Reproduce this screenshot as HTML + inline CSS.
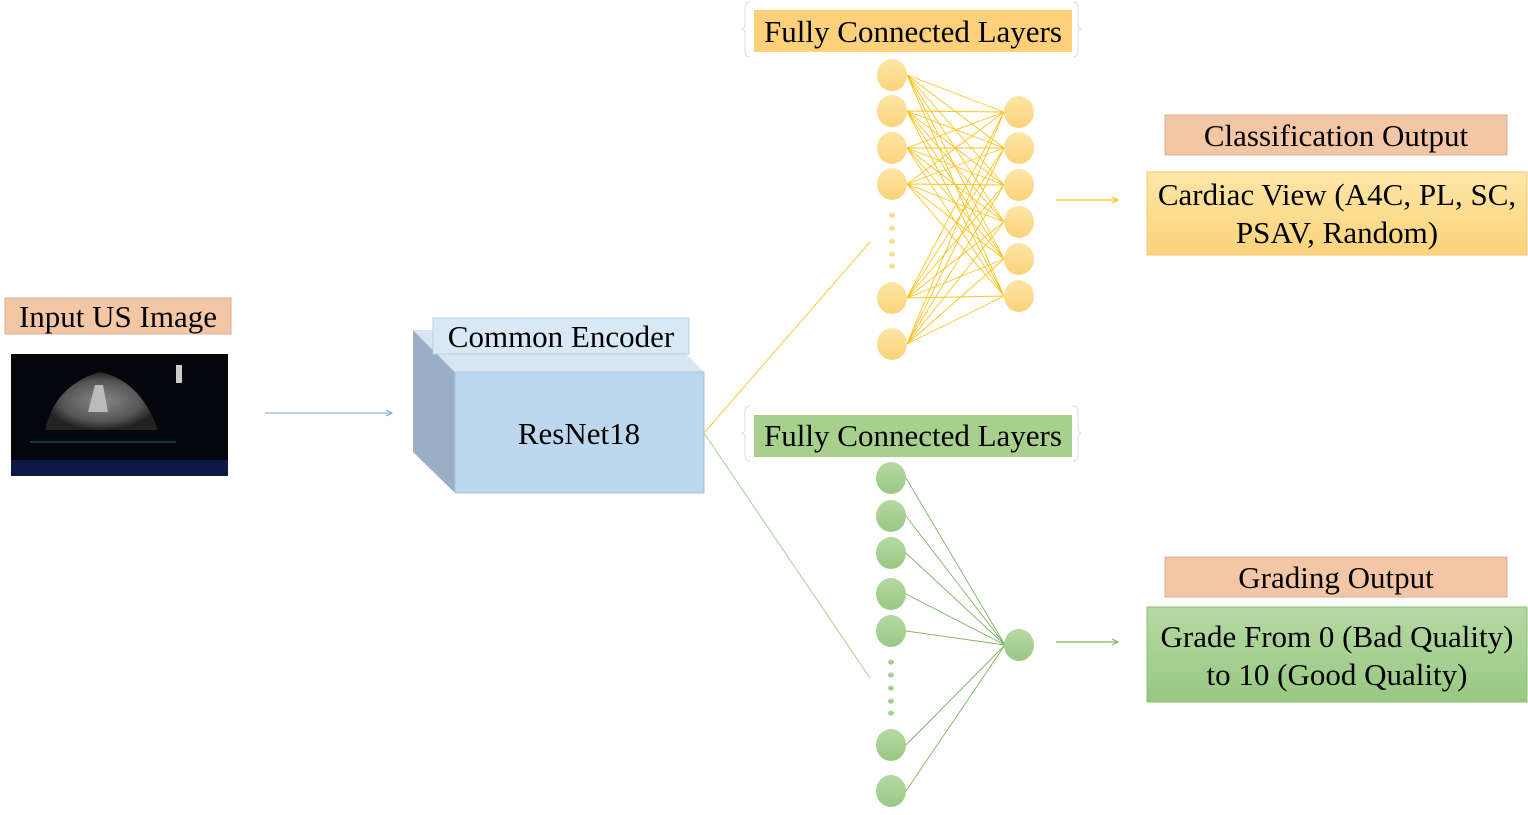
<!DOCTYPE html>
<html><head><style>
body{margin:0;width:1528px;height:810px;background:#fff;overflow:hidden;font-family:"Liberation Serif",serif}
</style></head><body>
<svg width="1528" height="810" xmlns="http://www.w3.org/2000/svg" font-family="Liberation Serif, serif">
<defs>
<linearGradient id="yg" x1="0" y1="0" x2="0" y2="1"><stop offset="0" stop-color="#fde6a6"/><stop offset="1" stop-color="#fbd37a"/></linearGradient>
<linearGradient id="gg" x1="0" y1="0" x2="0" y2="1"><stop offset="0" stop-color="#b6d9a4"/><stop offset="1" stop-color="#98c882"/></linearGradient>
<radialGradient id="us" cx="0.5" cy="0.5" r="0.5"><stop offset="0" stop-color="#888"/><stop offset="0.7" stop-color="#555"/><stop offset="1" stop-color="#222"/></radialGradient>
</defs>
<!-- Input -->
<rect x="5" y="298" width="226" height="36" fill="#f3c7a6" stroke="#d9b294"/>
<text x="118" y="327" font-size="31" text-anchor="middle">Input US Image</text>
<rect x="11" y="354" width="217" height="122" fill="#05060c"/>
<rect x="11" y="460" width="217" height="16" fill="#0a1a45"/>
<path d="M45 430 Q55 385 100 372 Q140 380 158 430 Z" fill="url(#us)"/>
<path d="M88 412 L95 385 L103 385 L108 412 Z" fill="#bbb"/>
<rect x="176" y="365" width="6" height="18" fill="#ccc"/>
<line x1="30" y1="442" x2="176" y2="442" stroke="#2a6a6a"/>
<line x1="265" y1="413" x2="392" y2="413" stroke="#7ba3d6" stroke-width="1"/>
<path d="M386 410 L392 413 L386 416" fill="none" stroke="#7ba3d6"/>
<!-- Encoder -->
<polygon points="413,330 455,372 455,493 413,452" fill="#9aafc6"/>
<polygon points="413,330 662,330 704,372 455,372" fill="#d8e6f4"/>
<rect x="455" y="372" width="249" height="121" fill="#bdd7ee" stroke="#a6c4e0"/>
<rect x="433" y="318" width="256" height="36" fill="#dae8f5" stroke="#b8cfe6"/>
<text x="561" y="347" font-size="31" text-anchor="middle">Common Encoder</text>
<text x="579" y="444" font-size="31" text-anchor="middle">ResNet18</text>
<line x1="704" y1="433" x2="870" y2="242" stroke="#fcc93a" stroke-width="1"/>
<line x1="704" y1="433" x2="870" y2="678" stroke="#a8d08d" stroke-width="1"/>
<!-- Top FC -->
<path d="M750 2 Q745 2 745 8 L745 24 Q745 29 741 29 Q745 29 745 34 L745 51 Q745 57 750 57" fill="none" stroke="#ddd"/>
<path d="M1073 2 Q1078 2 1078 8 L1078 24 Q1078 29 1082 29 Q1078 29 1078 34 L1078 51 Q1078 57 1073 57" fill="none" stroke="#ddd"/>
<rect x="754" y="10" width="318" height="42" fill="#fdd07a"/>
<text x="913" y="42" font-size="31" text-anchor="middle">Fully Connected Layers</text>
<g stroke="#fcc31f" stroke-width="0.9">
<path d="M907 75L1004 112M907 75L1004 148M907 75L1004 185M907 75L1004 222M907 75L1004 259M907 75L1004 296
M907 111L1004 112M907 111L1004 148M907 111L1004 185M907 111L1004 222M907 111L1004 259M907 111L1004 296
M907 148L1004 112M907 148L1004 148M907 148L1004 185M907 148L1004 222M907 148L1004 259M907 148L1004 296
M907 184L1004 112M907 184L1004 148M907 184L1004 185M907 184L1004 222M907 184L1004 259M907 184L1004 296
M907 298L1004 112M907 298L1004 148M907 298L1004 185M907 298L1004 222M907 298L1004 259M907 298L1004 296
M907 344L1004 112M907 344L1004 148M907 344L1004 185M907 344L1004 222M907 344L1004 259M907 344L1004 296"/>
</g>
<g fill="url(#yg)">
<ellipse cx="892" cy="75" rx="15" ry="16"/><ellipse cx="892" cy="111" rx="15" ry="16"/><ellipse cx="892" cy="148" rx="15" ry="16"/><ellipse cx="892" cy="184" rx="15" ry="16"/><ellipse cx="892" cy="298" rx="15" ry="16"/><ellipse cx="892" cy="344" rx="15" ry="16"/>
<ellipse cx="1019" cy="112" rx="15" ry="16"/><ellipse cx="1019" cy="148" rx="15" ry="16"/><ellipse cx="1019" cy="185" rx="15" ry="16"/><ellipse cx="1019" cy="222" rx="15" ry="16"/><ellipse cx="1019" cy="259" rx="15" ry="16"/><ellipse cx="1019" cy="296" rx="15" ry="16"/>
<ellipse cx="892" cy="215" rx="3" ry="2.5"/><ellipse cx="892" cy="228" rx="3" ry="2.5"/><ellipse cx="892" cy="241" rx="3" ry="2.5"/><ellipse cx="892" cy="254" rx="3" ry="2.5"/><ellipse cx="892" cy="266" rx="3" ry="2.5"/>
</g>
<line x1="1056" y1="200" x2="1118" y2="200" stroke="#fcc31f" stroke-width="1.2"/>
<path d="M1112 197 L1118 200 L1112 203" fill="none" stroke="#fcc31f"/>
<!-- Classification -->
<rect x="1165" y="115" width="342" height="40" fill="#f3c7a6" stroke="#d9b294"/>
<text x="1336" y="146" font-size="31" text-anchor="middle">Classification Output</text>
<rect x="1147" y="172" width="380" height="83" fill="url(#yg)" stroke="#f0c870"/>
<text x="1337" y="205" font-size="31" text-anchor="middle">Cardiac View (A4C, PL, SC,</text>
<text x="1337" y="243" font-size="31" text-anchor="middle">PSAV, Random)</text>
<!-- Bottom FC -->
<path d="M750 406 Q745 406 745 412 L745 428 Q745 433 741 433 Q745 433 745 438 L745 455 Q745 461 750 461" fill="none" stroke="#ddd"/>
<path d="M1073 406 Q1078 406 1078 412 L1078 428 Q1078 433 1082 433 Q1078 433 1078 438 L1078 455 Q1078 461 1073 461" fill="none" stroke="#ddd"/>
<rect x="754" y="415" width="318" height="42" fill="#a8d08d"/>
<text x="913" y="446" font-size="31" text-anchor="middle">Fully Connected Layers</text>
<g stroke="#7db561" stroke-width="0.9">
<path d="M906 478L1005 645M906 516L1005 645M906 553L1005 645M906 594L1005 645M906 631L1005 645M906 745L1005 645M906 791L1005 645"/>
</g>
<g fill="url(#gg)">
<ellipse cx="891" cy="478" rx="15" ry="16"/><ellipse cx="891" cy="516" rx="15" ry="16"/><ellipse cx="891" cy="553" rx="15" ry="16"/><ellipse cx="891" cy="594" rx="15" ry="16"/><ellipse cx="891" cy="631" rx="15" ry="16"/><ellipse cx="891" cy="745" rx="15" ry="16"/><ellipse cx="891" cy="791" rx="15" ry="16"/>
<ellipse cx="1019" cy="645" rx="15" ry="16"/>
<ellipse cx="891" cy="662" rx="3" ry="2.5"/><ellipse cx="891" cy="675" rx="3" ry="2.5"/><ellipse cx="891" cy="688" rx="3" ry="2.5"/><ellipse cx="891" cy="701" rx="3" ry="2.5"/><ellipse cx="891" cy="713" rx="3" ry="2.5"/>
</g>
<line x1="1056" y1="642" x2="1118" y2="642" stroke="#7db561" stroke-width="1.2"/>
<path d="M1112 639 L1118 642 L1112 645" fill="none" stroke="#7db561"/>
<!-- Grading -->
<rect x="1165" y="557" width="342" height="40" fill="#f3c7a6" stroke="#d9b294"/>
<text x="1336" y="588" font-size="31" text-anchor="middle">Grading Output</text>
<rect x="1147" y="607" width="380" height="95" fill="url(#gg)" stroke="#88bf6e"/>
<text x="1337" y="647" font-size="31" text-anchor="middle">Grade From 0 (Bad Quality)</text>
<text x="1337" y="685" font-size="31" text-anchor="middle">to 10 (Good Quality)</text>
</svg>
</body></html>
